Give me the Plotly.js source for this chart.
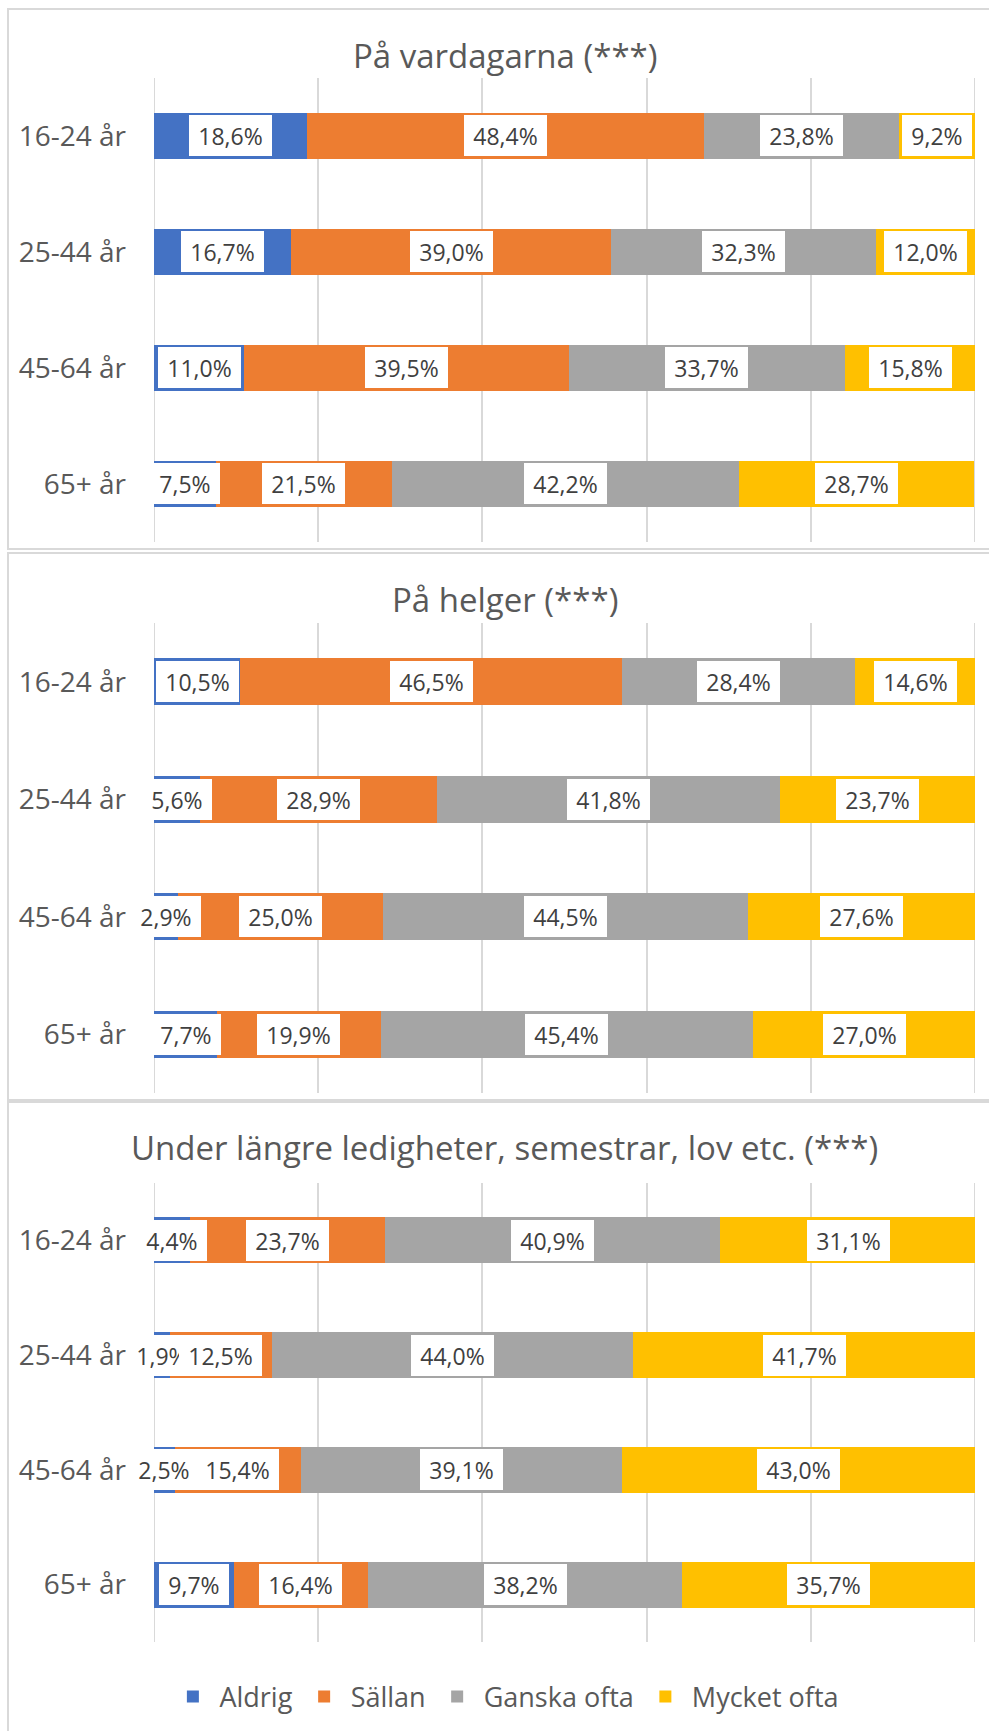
<!DOCTYPE html>
<html><head><meta charset="utf-8">
<script src="https://cdn.plot.ly/plotly-3.0.1.min.js"></script>
<style>html,body{margin:0;padding:0;background:#fff}#chart{width:989px;height:1731px}</style>
</head><body><div id="chart"></div>
<script>
// ---- data ----
const categories = ['16-24 år', '25-44 år', '45-64 år', '65+ år'];
const seriesNames = ['Aldrig', 'Sällan', 'Ganska ofta', 'Mycket ofta'];
const panelTitles = ['På vardagarna (***)', 'På helger (***)', 'Under längre ledigheter, semestrar, lov etc. (***)'];

const vardagarAldrig = [18.6, 16.7, 11.0, 7.5];
const vardagarSallan = [48.4, 39.0, 39.5, 21.5];
const vardagarGanska = [23.8, 32.3, 33.7, 42.2];
const vardagarMycket = [9.2, 12.0, 15.8, 28.7];

const helgerAldrig = [10.5, 5.6, 2.9, 7.7];
const helgerSallan = [46.5, 28.9, 25.0, 19.9];
const helgerGanska = [28.4, 41.8, 44.5, 45.4];
const helgerMycket = [14.6, 23.7, 27.6, 27.0];

const ledigAldrig = [4.4, 1.9, 2.5, 9.7];
const ledigSallan = [23.7, 12.5, 15.4, 16.4];
const ledigGanska = [40.9, 44.0, 39.1, 38.2];
const ledigMycket = [31.1, 41.7, 43.0, 35.7];

const axisMin = 0, axisMax = 100;

// ---- styling / layout ----
const colors = ['#4472C4', '#ED7D31', '#A5A5A5', '#FFC000'];
const FONT = "'Open Sans', sans-serif";
const TXT = '#595959';
const GRID = '#d9d9d9';
const W = 989, H = 1731;
const plotLeft = 154, plotRight = 975;
const panelBoxes = [
  {top: 9, bottom: 549, gridTop: 78, gridBottom: 542, titleY: 55},
  {top: 553, bottom: 1100, gridTop: 623, gridBottom: 1093, titleY: 599},
  {top: 1102, bottom: 1760, gridTop: 1183, gridBottom: 1642, titleY: 1147}
];
const panelData = [
  [vardagarAldrig, vardagarSallan, vardagarGanska, vardagarMycket],
  [helgerAldrig, helgerSallan, helgerGanska, helgerMycket],
  [ledigAldrig, ledigSallan, ledigGanska, ledigMycket]
];
const py = v => 1 - v / H;
const px = v => v / W;

const ctx = document.createElement('canvas').getContext('2d');
ctx.font = "23px 'Open Sans'";
const fmt = v => v.toFixed(1).replace('.', ',') + '%';

const traces = [], annotations = [], shapes = [];
const layout = {
  width: W, height: H, margin: {l: 0, r: 0, t: 0, b: 0},
  paper_bgcolor: '#fff', plot_bgcolor: 'rgba(0,0,0,0)',
  barmode: 'stack', bargap: 0.6,
  font: {family: FONT, color: TXT},
  showlegend: true,
  legend: {orientation: 'h', x: 0.511, xanchor: 'center', y: py(1697), yanchor: 'middle',
           font: {family: FONT, size: 27, color: TXT}, itemwidth: 43, bgcolor: 'rgba(0,0,0,0)',
           traceorder: 'normal'}
};

panelData.forEach((pd, p) => {
  const box = panelBoxes[p];
  const sfx = p === 0 ? '' : String(p + 1);
  const xa = 'x' + sfx, ya = 'y' + sfx;
  layout['xaxis' + sfx] = {
    domain: [px(plotLeft), px(plotRight)], anchor: ya, range: [axisMin, axisMax], tick0: 0, dtick: 20,
    showticklabels: false, showgrid: true, gridcolor: GRID, gridwidth: 2,
    zeroline: false, showline: false, ticks: '', fixedrange: true
  };
  layout['yaxis' + sfx] = {
    domain: [py(box.gridBottom), py(box.gridTop)], anchor: xa, type: 'category',
    categoryorder: 'array', categoryarray: categories, autorange: 'reversed',
    showgrid: false, zeroline: false, showline: false, ticks: '',
    tickfont: {family: FONT, size: 28, color: TXT}, ticklabelstandoff: 27, fixedrange: true
  };
  // edge gridlines (Plotly omits grid at the range ends)
  [axisMin, axisMax].forEach(xv => shapes.push({
    type: 'line', xref: xa, yref: ya + ' domain', x0: xv, x1: xv, y0: 0, y1: 1,
    line: {color: GRID, width: 2}, layer: 'below'
  }));
  shapes.push({type: 'rect', xref: 'paper', yref: 'paper', x0: px(8), x1: px(1000),
               y0: py(box.bottom), y1: py(box.top), line: {color: GRID, width: 2},
               fillcolor: 'rgba(0,0,0,0)', layer: 'below'});
  annotations.push({xref: 'paper', yref: 'paper', x: px(505), y: py(box.titleY),
                    xanchor: 'center', yanchor: 'middle', showarrow: false,
                    text: panelTitles[p], font: {family: FONT, size: 33, color: TXT}});
  const cum = categories.map(() => 0);
  pd.forEach((vals, s) => {
    traces.push({
      type: 'bar', orientation: 'h', x: vals, y: categories, xaxis: xa, yaxis: ya,
      name: seriesNames[s], marker: {color: colors[s], line: {width: 0}},
      legendgroup: seriesNames[s], showlegend: p === 2, hoverinfo: 'skip'
    });
    vals.forEach((v, i) => {
      const t = fmt(v);
      annotations.push({
        xref: xa, yref: ya, x: cum[i] + v / 2, y: categories[i], text: t, showarrow: false,
        xanchor: 'center', yanchor: 'middle', bgcolor: '#ffffff', borderpad: 5, borderwidth: 0,
        width: Math.ceil(ctx.measureText(t).width) + 8, height: 31,
        font: {family: FONT, size: 23, color: '#404040'}
      });
      cum[i] += v;
    });
  });
});
layout.annotations = annotations;
layout.shapes = shapes;

Plotly.newPlot('chart', traces, layout, {staticPlot: true, displayModeBar: false});
</script>
</body></html>
